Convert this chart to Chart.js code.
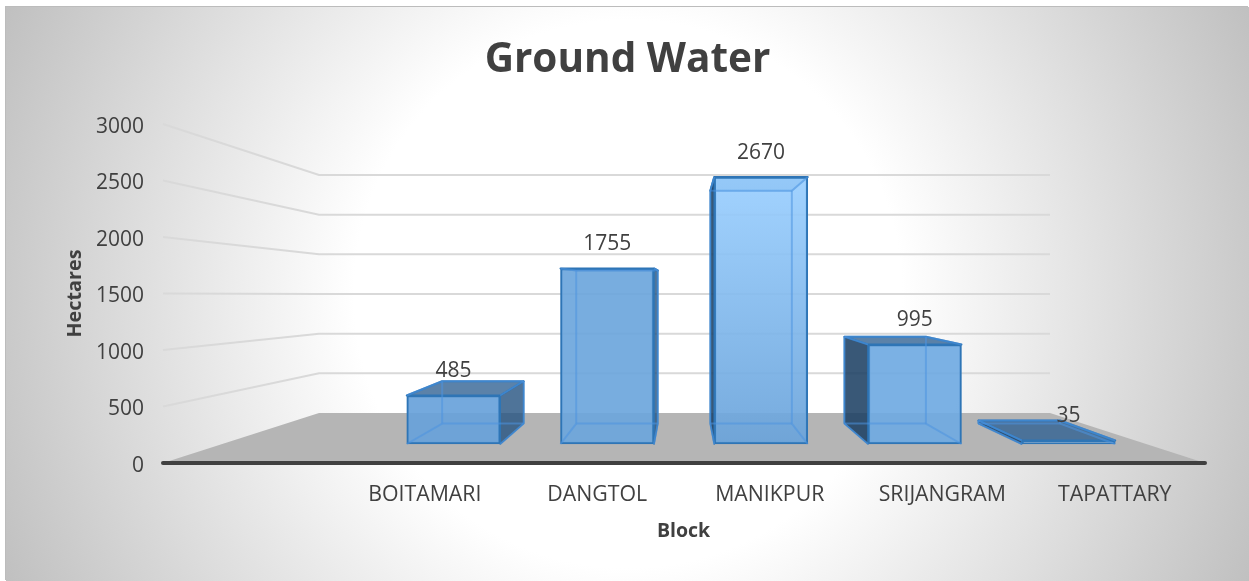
<!DOCTYPE html>
<html><head><meta charset="utf-8">
<style>
html,body{margin:0;padding:0;background:#fff;overflow:hidden}
#wrap{position:absolute;left:6px;top:7px;width:1243px;height:574px;
background:radial-gradient(circle 685px at 622px 287px,#fff 0%,#fff 40%,#c0c0c0 100%);
box-shadow:-1px -1px 0 #bcbcbc}
canvas{display:block}
</style>
<script src="https://cdn.jsdelivr.net/npm/chart.js@4"></script>
</head><body><div id="wrap"><canvas id="c" width="1243" height="574"></canvas></div>
<script>
const CATEGORIES = ['BOITAMARI','DANGTOL','MANIKPUR','SRIJANGRAM','TAPATTARY'];
const HECTARES = [485,1755,2670,995,35];
const FRONT_COLORS = ['rgba(104,162,218,.92)','rgba(108,166,220,.92)',null,'rgba(112,170,226,.92)','rgba(104,162,218,.92)'];
const FONT = '"Open Sans", "Noto Sans", sans-serif';
const TEXT = '#404040';
const VP = {x:677.5, y:277};   // vanishing point in canvas coordinates
const DEPTH = 0.128;
const back = (x,y)=>({x:x+(VP.x-x)*DEPTH, y:y+(VP.y-y)*DEPTH});
function poly(ctx,pts,fill,stroke,lw){
  ctx.beginPath();pts.forEach((p,i)=>i?ctx.lineTo(p.x,p.y):ctx.moveTo(p.x,p.y));ctx.closePath();
  if(fill){ctx.fillStyle=fill;ctx.fill();}
  if(stroke){ctx.strokeStyle=stroke;ctx.lineWidth=lw;ctx.lineJoin='round';ctx.stroke();}
}
function line(ctx,a,b,c,lw){ctx.beginPath();ctx.moveTo(a.x,a.y);ctx.lineTo(b.x,b.y);ctx.strokeStyle=c;ctx.lineWidth=lw;ctx.stroke();}
const wall3d = {
  id:'wall3d',
  beforeDatasetsDraw(chart){
    const ctx=chart.ctx, y=chart.scales.y, a=chart.chartArea;
    const L=a.left-3, R=a.right+4, BL=a.left+153, BR=a.right-151;
    const yBottom=y.getPixelForValue(0), yTop=y.getPixelForValue(3000);
    const backY=p=>(yBottom-50)-(yBottom-p)*(238/(yBottom-yTop));
    ctx.save();
    y.ticks.forEach(t=>{
      if(t.value===0) return;
      const p=y.getPixelForValue(t.value), q=backY(p);
      ctx.beginPath();ctx.moveTo(L,p);ctx.lineTo(BL,q);ctx.lineTo(BR,q);
      ctx.strokeStyle='#d9d9d9';ctx.lineWidth=2;ctx.stroke();
    });
    poly(ctx,[{x:L,y:yBottom},{x:BL,y:yBottom-50},{x:BR,y:yBottom-50},{x:R,y:yBottom}],'#b5b5b5');
    ctx.lineCap='round';
    line(ctx,{x:L,y:yBottom},{x:R,y:yBottom},'#404040',4);
    ctx.lineCap='butt';
    chart.getDatasetMeta(0).data.forEach(el=>{
      const l=el.x-el.width/2, r=el.x+el.width/2, t=el.y, b=el.base;
      const tlb=back(l,t), trb=back(r,t), brb=back(r,b), blb=back(l,b);
      const edge='#2e75b6';
      poly(ctx,[{x:l,y:t},{x:r,y:t},trb,tlb],'rgba(45,95,145,.78)',edge,2);
      if(r<VP.x) poly(ctx,[{x:r,y:t},trb,brb,{x:r,y:b}],'rgba(40,85,130,.82)',edge,1.5);
      if(l>VP.x) poly(ctx,[{x:l,y:t},tlb,blb,{x:l,y:b}],'rgba(30,65,100,.88)',edge,1.5);
    });
    ctx.restore();
  },
  afterDatasetsDraw(chart){
    const ctx=chart.ctx, meta=chart.getDatasetMeta(0);
    ctx.save();
    meta.data.forEach((el,i)=>{
      const l=el.x-el.width/2, r=el.x+el.width/2, t=el.y, b=el.base;
      const tlb=back(l,t), trb=back(r,t), brb=back(r,b), blb=back(l,b);
      const c='rgba(76,148,224,.55)';
      line(ctx,tlb,trb,c,2);line(ctx,tlb,blb,c,2);line(ctx,trb,brb,c,2);line(ctx,blb,brb,c,2);
      line(ctx,blb,{x:l,y:b},c,2);line(ctx,brb,{x:r,y:b},c,2);
      line(ctx,trb,{x:r,y:t},c,2);line(ctx,tlb,{x:l,y:t},c,2);
      ctx.fillStyle=TEXT;ctx.font='21px '+FONT;ctx.textAlign='center';ctx.textBaseline='middle';
      ctx.fillText(String(HECTARES[i]),el.x,t-24);
    });
    ctx.restore();
  }
};
new Chart(document.getElementById('c'),{
  type:'bar',
  data:{
    labels:['',...CATEGORIES],
    datasets:[{
      data:HECTARES.map((v,i)=>({x:i,y:v})),
      xAxisID:'x2',yAxisID:'y2',
      barThickness:93.5,
      borderWidth:2,borderColor:'#2e75b6',borderSkipped:false,
      backgroundColor(ctx){
        const a=ctx.chart.chartArea, flat=FRONT_COLORS[ctx.dataIndex];
        if(flat) return flat;
        if(!a) return '#72a9dd';
        const g=ctx.chart.ctx.createLinearGradient(0,a.top+53,0,a.top+320);
        g.addColorStop(0,'rgba(154,207,255,.92)');
        g.addColorStop(1,'rgba(106,163,218,.92)');
        return g;
      }
    }]
  },
  options:{
    responsive:false,animation:false,devicePixelRatio:1,
    layout:{padding:{left:48,right:48,top:0,bottom:0}},
    plugins:{
      legend:{display:false},tooltip:{enabled:false},
      title:{display:true,text:'Ground Water',color:TEXT,font:{family:FONT,size:40.5,weight:'bold',lineHeight:1.2},padding:{top:29.4,bottom:39}}
    },
    scales:{
      x:{type:'category',offset:true,
        grid:{display:false},border:{display:false},
        ticks:{color:TEXT,font:{family:FONT,size:21.3},padding:11,maxRotation:0,autoSkip:false},
        title:{display:true,text:'Block',color:TEXT,font:{family:FONT,size:19.5,weight:'bold',lineHeight:1.2},padding:{top:0,bottom:38}},
        afterFit(s){s.height=118;}
      },
      y:{type:'linear',min:0,max:3000,
        grid:{display:false,drawTicks:false},border:{display:false},
        ticks:{stepSize:500,color:TEXT,font:{family:FONT,size:21},padding:22,labelOffset:3,callback:v=>String(v)},
        title:{display:true,text:'Hectares',color:TEXT,font:{family:FONT,size:19.8,weight:'bold',lineHeight:1.2},padding:{top:9.1,bottom:0}},
        afterFit(s){s.width=112;}
      },
      x2:{type:'linear',display:false,min:-1.87,max:4.862,offset:false,grid:{display:false}},
      y2:{type:'linear',display:false,min:-190,max:3200,grid:{display:false}}
    }
  },
  plugins:[wall3d]
});
</script></body></html>
